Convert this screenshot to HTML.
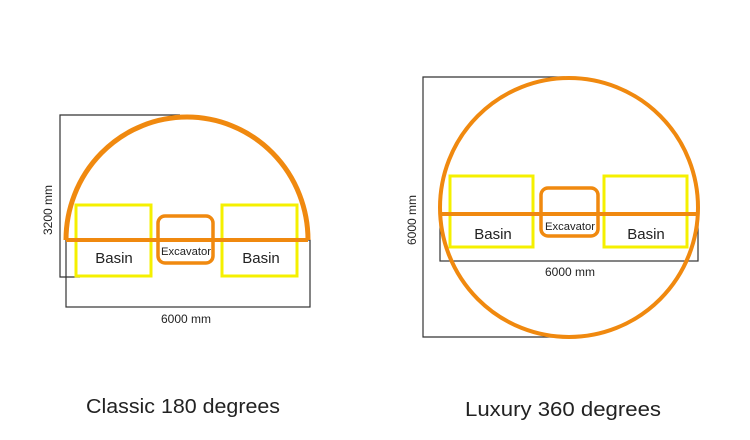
<!DOCTYPE html>
<html><head><meta charset="utf-8"><style>html,body{margin:0;padding:0;background:#fff;}svg{display:block}</style></head>
<body>
<svg width="750" height="440" viewBox="0 0 750 440" xmlns="http://www.w3.org/2000/svg" font-family="Liberation Sans, sans-serif">
<rect width="750" height="440" fill="#fff"/>
<!-- Left diagram -->
<polyline points="180,115 60,115 60,277 80,277" fill="none" stroke="#333" stroke-width="1.2"/>
<rect x="66" y="240" width="244" height="67" fill="none" stroke="#333" stroke-width="1.2"/>
<path d="M66,240 A121,123 0 0 1 308,240" fill="none" stroke="#f0890f" stroke-width="5"/>
<rect x="76" y="205" width="75" height="71" fill="none" stroke="#f5f000" stroke-width="3"/>
<rect x="222" y="205" width="75" height="71" fill="none" stroke="#f5f000" stroke-width="3"/>
<line x1="66" y1="240" x2="308" y2="240" stroke="#f0890f" stroke-width="4"/>
<rect x="158" y="216" width="55" height="47" rx="7" fill="none" stroke="#f0890f" stroke-width="3.5"/>
<text x="114" y="263" font-size="15" text-anchor="middle" fill="#222">Basin</text>
<text x="261" y="263" font-size="15" text-anchor="middle" fill="#222">Basin</text>
<text x="186" y="255" font-size="11" text-anchor="middle" fill="#222" textLength="50" lengthAdjust="spacingAndGlyphs">Excavator</text>
<text x="186" y="323" font-size="12" text-anchor="middle" fill="#222">6000 mm</text>
<text transform="translate(52,210) rotate(-90)" font-size="12" text-anchor="middle" fill="#222">3200 mm</text>
<!-- Right diagram -->
<polyline points="565,77 423,77 423,337 565,337" fill="none" stroke="#333" stroke-width="1.2"/>
<rect x="440" y="214" width="258" height="47" fill="none" stroke="#333" stroke-width="1.2"/>
<rect x="450" y="176" width="83" height="71" fill="none" stroke="#f5f000" stroke-width="3"/>
<rect x="604" y="176" width="83" height="71" fill="none" stroke="#f5f000" stroke-width="3"/>
<ellipse cx="569" cy="207.5" rx="129" ry="129.5" fill="none" stroke="#f0890f" stroke-width="4"/>
<line x1="440" y1="214" x2="698" y2="214" stroke="#f0890f" stroke-width="4"/>
<rect x="541" y="188" width="57" height="48" rx="7" fill="none" stroke="#f0890f" stroke-width="3.5"/>
<text x="493" y="239" font-size="15" text-anchor="middle" fill="#222">Basin</text>
<text x="646" y="239" font-size="15" text-anchor="middle" fill="#222">Basin</text>
<text x="570" y="230" font-size="11" text-anchor="middle" fill="#222" textLength="50" lengthAdjust="spacingAndGlyphs">Excavator</text>
<text x="570" y="276" font-size="12" text-anchor="middle" fill="#222">6000 mm</text>
<text transform="translate(416,220) rotate(-90)" font-size="12" text-anchor="middle" fill="#222">6000 mm</text>
<!-- Captions -->
<text x="183" y="413" font-size="20" text-anchor="middle" fill="#222" textLength="194" lengthAdjust="spacingAndGlyphs">Classic 180 degrees</text>
<text x="563" y="416" font-size="20" text-anchor="middle" fill="#222" textLength="196" lengthAdjust="spacingAndGlyphs">Luxury 360 degrees</text>
</svg>
</body></html>
